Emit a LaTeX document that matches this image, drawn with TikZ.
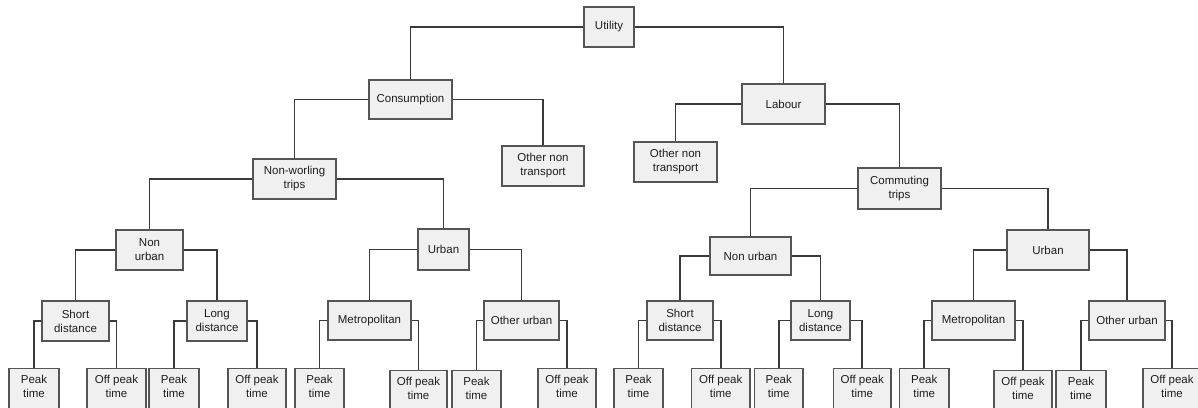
\documentclass[tikz,border=0pt]{standalone}
\usepackage{fontspec}
\setmainfont{Liberation Sans}
\definecolor{boxfill}{HTML}{F0F0F0}
\definecolor{boxline}{HTML}{555555}
\definecolor{connline}{HTML}{3A3A3A}
\definecolor{txt}{HTML}{1E1E1E}
\newcommand{\lbfont}{\fontsize{11.5}{14}\selectfont}
\newcommand{\bx}[6]{%
  \pgfmathsetmacro{\bw}{#4-#2}\pgfmathsetmacro{\bh}{#5-#3}%
  \node[box, minimum width=\bw pt, minimum height=\bh pt] (#1) at ({(#2+#4)/2},{(#3+#5)/2}) {#6};}
\newcommand{\lf}[5]{%
  \pgfmathsetmacro{\bw}{#3-#2}%
  \node[leaf, minimum width=\bw pt] (#1) at ({(#2+#3)/2},#4) {#5};}
\tikzset{
  box/.style={draw=boxline, fill=boxfill, line width=1.6pt, inner sep=0pt,
    align=center, font=\lbfont, text=txt},
  leaf/.style={box, anchor=north, inner ysep=6.5pt, text height=22.4pt, text depth=18pt},
  conn/.style={draw=connline, line width=1.7pt}
}
\begin{document}
\begin{tikzpicture}[x=1pt,y=-1pt]
\useasboundingbox (0,0) rectangle (1198,407);
\fill[white] (0,0) rectangle (1198,407);
\clip (0,0) rectangle (1198,407);
% level 0-2
\bx{util}{584}{7}{634}{47}{Utility}
\bx{cons}{369}{80}{452}{119}{Consumption}
\bx{labour}{742}{84}{825}{124}{Labour}
\bx{othL}{502}{146}{584}{186}{Other non\\transport}
\bx{nonw}{253}{159}{336}{199}{Non-worling\\trips}
\bx{othR}{634}{142}{717}{182}{Other non\\transport}
\bx{comm}{858}{168}{941}{209}{Commuting\\trips}
% level 3
\bx{nuL}{116}{230}{183}{270}{Non\\urban}
\bx{urbL}{418}{229}{469}{270}{Urban}
\bx{nuR}{710}{237}{791}{275}{Non urban}
\bx{urbR}{1007}{230}{1089}{270}{Urban}
% level 4
\bx{sdL}{42}{301}{109}{341}{Short\\distance}
\bx{ldL}{187}{301}{247}{341}{Long\\distance}
\bx{metL}{328}{301}{411}{340}{Metropolitan}
\bx{ouL}{484}{301}{559}{340}{Other urban}
\bx{sdR}{647}{301}{713}{340}{Short\\distance}
\bx{ldR}{791}{301}{850}{340}{Long\\distance}
\bx{metR}{932}{301}{1015}{340}{Metropolitan}
\bx{ouR}{1089}{301}{1165}{340}{Other urban}
% leaves
\lf{pL1}{9}{59}{367.5}{Peak\\time}
\lf{oL1}{87}{146}{367.5}{Off peak\\time}
\lf{pL2}{149}{199}{367.5}{Peak\\time}
\lf{oL2}{228}{286}{367.5}{Off peak\\time}
\lf{pL3}{295}{344}{367.5}{Peak\\time}
\lf{oL3}{390}{447}{369.5}{Off peak\\time}
\lf{pL4}{452}{501}{369.5}{Peak\\time}
\lf{oL4}{538}{596}{367.5}{Off peak\\time}
\lf{pR1}{614}{663}{367.5}{Peak\\time}
\lf{oR1}{691.5}{750}{367.5}{Off peak\\time}
\lf{pR2}{754.5}{803}{367.5}{Peak\\time}
\lf{oR2}{833.5}{891}{367.5}{Off peak\\time}
\lf{pR3}{899.5}{949}{367.5}{Peak\\time}
\lf{oR3}{994}{1052}{369.5}{Off peak\\time}
\lf{pR4}{1056}{1106}{369.5}{Peak\\time}
\lf{oR4}{1143}{1201}{367.5}{Off peak\\time}
% connectors
\foreach \p/\a/\b in {util/cons/labour, cons/nonw/othL, labour/othR/comm,
  nonw/nuL/urbL, comm/nuR/urbR, nuL/sdL/ldL, urbL/metL/ouL, nuR/sdR/ldR,
  urbR/metR/ouR, sdL/pL1/oL1, ldL/pL2/oL2, metL/pL3/oL3, ouL/pL4/oL4,
  sdR/pR1/oR1, ldR/pR2/oR2, metR/pR3/oR3, ouR/pR4/oR4}{
  \draw[conn] (\p.west) -| (\a.north);
  \draw[conn] (\p.east) -| (\b.north);
}
\end{tikzpicture}
\end{document}
